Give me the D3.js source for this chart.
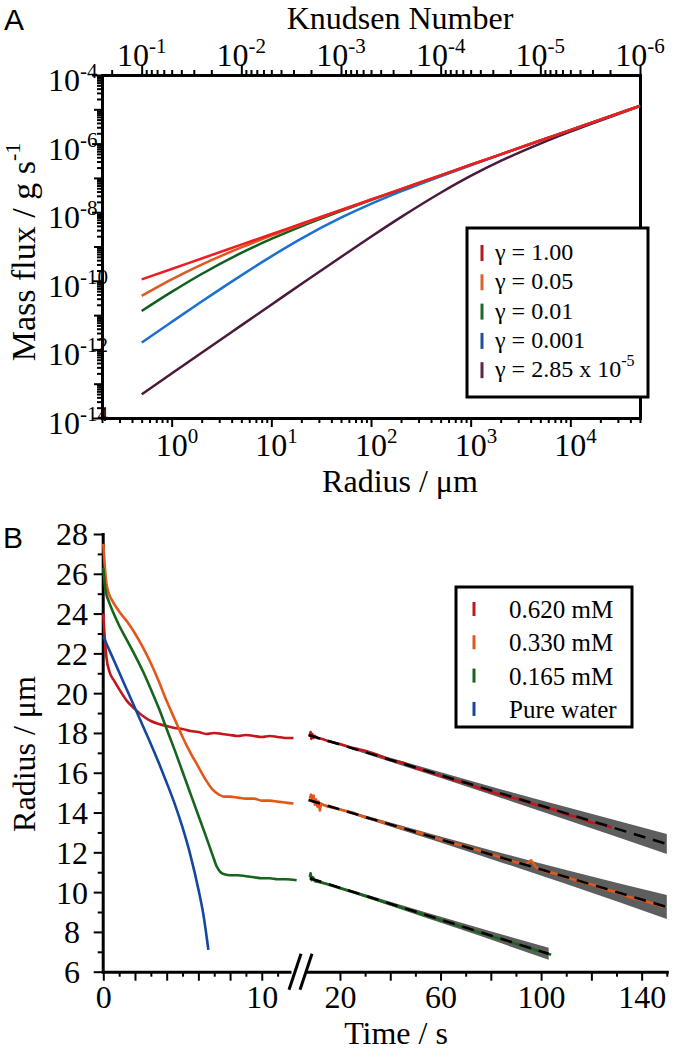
<!DOCTYPE html>
<html><head><meta charset="utf-8">
<script src="https://cdn.jsdelivr.net/npm/d3@7"></script>
<style>
html,body{margin:0;padding:0;background:#fff;}
svg{display:block;}
</style></head><body>
<svg id="chart" width="677" height="1052"></svg>
<script>
// ================= Panel A data =================
const radiusUm = [0.5, 1, 2, 5, 10, 20, 50, 100, 200, 500, 1000, 2000, 5000, 1e4, 2e4, 5e4];
const fluxGamma1 = [1.10e-10, 2.21e-10, 4.47e-10, 1.13e-9, 2.28e-9, 4.59e-9, 1.16e-8, 2.34e-8, 4.72e-8, 1.19e-7, 2.41e-7, 4.86e-7, 1.23e-6, 2.48e-6, 5.0e-6, 1.26e-5];
const fluxGamma005 = [3.63e-11, 1.10e-10, 2.97e-10, 9.38e-10, 2.07e-9, 4.38e-9, 1.14e-8, 2.32e-8, 4.70e-8, 1.19e-7, 2.41e-7, 4.86e-7, 1.23e-6, 2.48e-6, 5.0e-6, 1.26e-5];
const fluxGamma001 = [1.32e-11, 4.75e-11, 1.58e-10, 6.50e-10, 1.66e-9, 3.88e-9, 1.08e-8, 2.26e-8, 4.63e-8, 1.19e-7, 2.40e-7, 4.85e-7, 1.23e-6, 2.48e-6, 5.0e-6, 1.26e-5];
const fluxGamma0001 = [1.58e-12, 6.31e-12, 2.48e-11, 1.44e-10, 5.16e-10, 1.70e-9, 6.90e-9, 1.75e-8, 4.04e-8, 1.12e-7, 2.33e-7, 4.79e-7, 1.22e-6, 2.47e-6, 5.0e-6, 1.26e-5];
const fluxGamma285e5 = [4.90e-14, 1.98e-13, 7.98e-13, 5.01e-12, 2.01e-11, 8.07e-11, 4.97e-10, 1.92e-9, 7.16e-9, 3.69e-8, 1.14e-7, 3.12e-7, 1.00e-6, 2.23e-6, 4.73e-6, 1.23e-5];
const gammaLabels = ["γ = 1.00", "γ = 0.05", "γ = 0.01", "γ = 0.001", "γ = 2.85 x 10"];
const gammaLabelSup = ["", "", "", "", "-5"];
const gammaLineColors = ["#ee1c24", "#e2571e", "#0f5f1f", "#1b70d0", "#4b1a3a"];
const gammaLegendColors = ["#b3191f", "#d9632a", "#1b6a2b", "#1f4e9a", "#5b2448"];
const radiusLabelTicks = [1, 10, 100, 1000, 10000];
const fluxLabelTicks = [1e-4, 1e-6, 1e-8, 1e-10, 1e-12, 1e-14];
const knudsenLabelTicks = [1e-1, 1e-2, 1e-3, 1e-4, 1e-5, 1e-6];
const meanFreePathUm = 0.05;   // Knudsen number = mean free path / radius

// ================= Panel B data =================
const redLeft = [[0,24.0],[0.05,23.3],[0.1,22.7],[0.2,21.8],[0.4,21.05],[0.7,20.6],[1.0,20.2],[1.5,19.6],[2.0,19.2],[2.5,18.85],[3.0,18.6],[3.5,18.45],[4.0,18.35],[4.5,18.25],[5.0,18.2],[5.5,18.1],[6.0,18.05],[6.5,17.95],[7.0,18.0],[7.5,17.95],[8.0,17.9],[8.5,17.85],[9.0,17.9],[9.5,17.85],[10.0,17.8],[10.5,17.85],[11.0,17.8],[11.5,17.75],[12.0,17.75]];
const orangeLeft = [[0,27.5],[0.1,26.3],[0.2,25.5],[0.35,25.0],[0.6,24.6],[1.0,24.1],[1.5,23.6],[2.0,23.0],[2.5,22.3],[3.0,21.5],[3.5,20.6],[4.0,19.6],[4.5,18.7],[5.0,17.8],[5.5,17.0],[6.0,16.3],[6.5,15.6],[6.9,15.15],[7.3,14.9],[7.6,14.8],[8.0,14.8],[8.5,14.75],[9.0,14.7],[9.5,14.7],[10.0,14.6],[10.5,14.6],[11.0,14.55],[11.5,14.5],[12.0,14.45]];
const greenLeft = [[0,26.3],[0.05,25.8],[0.1,25.4],[0.2,24.95],[0.35,24.6],[0.6,24.1],[1.0,23.4],[1.5,22.65],[2.0,21.9],[2.5,21.1],[3.0,20.2],[3.5,19.25],[4.0,18.2],[4.5,17.15],[5.0,16.05],[5.5,14.95],[6.0,13.85],[6.5,12.75],[6.9,11.85],[7.15,11.3],[7.4,11.0],[7.7,10.88],[8.0,10.85],[8.5,10.85],[9.0,10.8],[9.5,10.75],[10.0,10.7],[10.5,10.7],[11.0,10.65],[11.5,10.65],[12.2,10.6]];
const blueLeft = [[0,22.85],[0.25,22.4],[0.5,21.95],[0.75,21.5],[1.0,21.05],[1.5,20.15],[2.0,19.25],[2.5,18.35],[3.0,17.45],[3.5,16.5],[4.0,15.5],[4.5,14.45],[5.0,13.25],[5.5,11.85],[6.0,10.15],[6.3,8.95],[6.63,7.1]];
const redRight = [[8.0,17.8],[8.3,18.05],[8.6,17.7],[9.0,17.95],[9.5,17.75],[10,17.85],[11,17.75],[13,17.7],[15,17.6],[20,17.45],[25,17.25],[30,17.1],[35,16.9],[40,16.65],[45,16.5],[50,16.25],[55,16.05],[60,15.85],[65,15.65],[70,15.5],[75,15.25],[80,15.05],[85,14.85],[90,14.7],[95,14.5],[100,14.3],[105,14.15],[110,13.9],[115,13.75],[120,13.5],[125,13.4],[128,13.25]];
const orangeRight = [[8.0,14.7],[8.5,14.9],[9.0,14.55],[9.5,14.85],[10,14.4],[10.5,14.65],[11,14.3],[11.5,14.55],[12,14.1],[12.5,14.45],[13,14.4],[15,14.3],[20,14.15],[25,14.0],[30,13.75],[35,13.6],[40,13.4],[45,13.2],[50,13.05],[55,12.85],[60,12.65],[65,12.45],[70,12.3],[75,12.1],[80,11.9],[85,11.7],[90,11.5],[94,11.4],[96,11.6],[98,11.25],[100,11.1],[105,10.95],[110,10.75],[115,10.55],[120,10.4],[125,10.15],[130,10.0],[135,9.75],[140,9.6],[145,9.4],[149,9.25]];
const greenRight = [[8.0,10.75],[8.3,10.95],[8.7,10.6],[9.2,10.75],[10,10.55],[12,10.5],[15,10.4],[20,10.2],[25,10.0],[30,9.8],[35,9.6],[40,9.4],[45,9.2],[50,9.0],[55,8.8],[60,8.6],[65,8.4],[70,8.2],[75,8.0],[80,7.8],[85,7.6],[90,7.4],[95,7.2],[100,7.0],[104,6.85]];
const fitRed = [[7.5,17.9],[150,12.42]];
const fitOrange = [[7.5,14.63],[150,9.25]];
const fitGreen = [[8,10.7],[103,6.9]];
const bandRed = [[7.5,17.87,17.93],[40,16.55,16.75],[80,14.91,15.31],[110,13.64,14.28],[150,11.92,12.92]];
const bandOrange = [[7.5,14.6,14.66],[40,13.3,13.5],[80,11.67,12.11],[110,10.41,11.11],[150,8.65,9.85]];
const bandGreen = [[8,10.67,10.73],[40,9.32,9.52],[70,8.04,8.40],[103,6.6,7.2]];
const concLabels = ["0.620 mM", "0.330 mM", "0.165 mM", "Pure water"];
const concColors = ["#c3161d", "#e3571b", "#17651d", "#1546a0"];
const timeLeftLabels = [0, 10];
const timeRightLabels = [20, 60, 100, 140];

// ================= drawing =================
const SERIF = '"Liberation Serif","Times New Roman",Times,serif';
const SANS = '"Liberation Sans",Arial,Helvetica,sans-serif';
const svg = d3.select("#chart");

function logTickValues(domain) {
  const lo = Math.min(...domain), hi = Math.max(...domain), out = [];
  for (let e = Math.floor(Math.log10(lo)); e <= Math.ceil(Math.log10(hi)); e++)
    for (let k = 1; k <= 9; k++) {
      const v = k * Math.pow(10, e);
      if (v >= lo * (1 - 1e-9) && v <= hi * (1 + 1e-9)) out.push(v);
    }
  return out;
}
const isDecade = v => Math.abs(Math.log10(v) - Math.round(Math.log10(v))) < 1e-6;
function styleAxis(g) {
  g.attr("font-family", SERIF);
  g.select(".domain").attr("stroke", "#000").attr("stroke-width", 3).attr("stroke-linecap", "square");
  g.selectAll(".tick line").attr("stroke", "#000").attr("stroke-width", 2);
}
function powLabel(g, x, y, exp, anchor) {
  const t = g.append("text").attr("x", x).attr("y", y).attr("text-anchor", anchor)
    .attr("font-family", SERIF).attr("font-size", 32).text("10");
  t.append("tspan").attr("dy", -13).attr("font-size", 21).text(String(exp));
  return t;
}

// ---------- Panel A ----------
const xA = d3.scaleLog().domain([0.2, 5e4]).range([102, 640]);
const yA = d3.scaleLog().domain([1e-14, 1e-4]).range([418, 75]);
const kA = d3.scaleLog().domain([meanFreePathUm / 0.2, meanFreePathUm / 5e4]).range([102, 640]);
const gA = svg.append("g");

const axB = gA.append("g").attr("transform", `translate(0,${yA(1e-14)})`)
  .call(d3.axisBottom(xA).tickValues(logTickValues(xA.domain())).tickFormat("").tickSizeOuter(0));
axB.selectAll(".tick line").attr("y2", d => isDecade(d) ? 9 : 5);
styleAxis(axB);

const axT = gA.append("g").attr("transform", `translate(0,${yA(1e-4)})`)
  .call(d3.axisTop(kA).tickValues(logTickValues(kA.domain())).tickFormat("").tickSizeOuter(0));
axT.selectAll(".tick line").attr("y2", d => isDecade(d) ? -9 : -5);
styleAxis(axT);

const axL = gA.append("g").attr("transform", `translate(${xA(0.2)},0)`)
  .call(d3.axisLeft(yA).tickValues(logTickValues(yA.domain())).tickFormat("").tickSizeOuter(0));
axL.selectAll(".tick line").attr("x2", d => isDecade(d) ? (Math.round(Math.log10(d)) % 2 === 0 ? -10 : -8) : -5);
styleAxis(axL);

const axR = gA.append("g").attr("transform", `translate(${xA(5e4)},0)`)
  .call(d3.axisRight(yA).tickValues([]).tickSizeOuter(0));
styleAxis(axR);

radiusLabelTicks.forEach(v => powLabel(gA, xA(v) - 16, 456, Math.round(Math.log10(v)), "start"));
fluxLabelTicks.forEach(v => powLabel(gA, 48, yA(v) + 16, Math.round(Math.log10(v)), "start"));
knudsenLabelTicks.forEach(v => powLabel(gA, kA(v), 66, Math.round(Math.log10(v)), "middle"));

gA.append("text").attr("x", 400).attr("y", 29).attr("text-anchor", "middle")
  .attr("font-family", SERIF).attr("font-size", 32).text("Knudsen Number");
gA.append("text").attr("x", 400).attr("y", 492).attr("text-anchor", "middle")
  .attr("font-family", SERIF).attr("font-size", 32).text("Radius / μm");
const yTitleA = gA.append("text").attr("transform", "translate(35,252) rotate(-90)").attr("text-anchor", "middle")
  .attr("font-family", SERIF).attr("font-size", 34).text("Mass flux / g s");
yTitleA.append("tspan").attr("dy", -15).attr("font-size", 22).text("-1");
gA.append("text").attr("x", 4).attr("y", 30).attr("font-family", SANS).attr("font-size", 30).text("A");

const lineA = d3.line().x(d => xA(d[0])).y(d => yA(d[1])).curve(d3.curveMonotoneX);
const fluxSeries = [fluxGamma1, fluxGamma005, fluxGamma001, fluxGamma0001, fluxGamma285e5];
[4, 3, 2, 1, 0].forEach(i => {
  gA.append("path").datum(radiusUm.map((r, j) => [r, fluxSeries[i][j]]))
    .attr("d", lineA).attr("fill", "none").attr("stroke", gammaLineColors[i]).attr("stroke-width", 2.5);
});

// legend A
gA.append("rect").attr("x", 467).attr("y", 228).attr("width", 181).attr("height", 169)
  .attr("fill", "#fff").attr("stroke", "#000").attr("stroke-width", 3);
gammaLabels.forEach((lab, i) => {
  const by = 260 + i * 29.3;
  gA.append("line").attr("x1", 482).attr("x2", 482).attr("y1", by - 15).attr("y2", by + 1)
    .attr("stroke", gammaLegendColors[i]).attr("stroke-width", 3);
  const t = gA.append("text").attr("x", 495).attr("y", by).attr("font-family", SERIF).attr("font-size", 24).text(lab);
  if (gammaLabelSup[i]) t.append("tspan").attr("dy", -11).attr("font-size", 16).text(gammaLabelSup[i]);
});

// ---------- Panel B ----------
const yB = d3.scaleLinear().domain([6, 28]).range([971.7, 534]);
const xB1 = d3.scaleLinear().domain([0, 11.75]).range([103.3, 289.5]);
const xB2 = d3.scaleLinear().domain([7, 150]).range([307.3, 666.8]);
const gB = svg.append("g");

const axBy = gB.append("g").attr("transform", `translate(102.7,0)`)
  .call(d3.axisLeft(yB).tickValues(d3.range(6, 28.01, 1)).tickFormat(d => d % 2 === 0 ? d : "").tickSizeOuter(0));
axBy.selectAll(".tick line").attr("x2", d => d % 2 === 0 ? -9 : -5);
axBy.selectAll(".tick text").attr("x", 72 - 102.7).attr("text-anchor", "middle").attr("dy", "0.34em").attr("font-size", 32);
styleAxis(axBy);

const axBx1 = gB.append("g").attr("transform", `translate(0,${yB(6)})`)
  .call(d3.axisBottom(xB1).tickValues(d3.range(0, 12, 1)).tickFormat(d => timeLeftLabels.includes(d) ? d : "").tickSizeOuter(0));
axBx1.selectAll(".tick line").attr("y2", d => d % 2 === 0 ? 9 : 5);
axBx1.selectAll(".tick text").attr("y", 14).attr("dy", "0.71em").attr("font-size", 32);
styleAxis(axBx1);

const axBx2 = gB.append("g").attr("transform", `translate(0,${yB(6)})`)
  .call(d3.axisBottom(xB2).tickValues(d3.range(20, 151, 10)).tickFormat(d => timeRightLabels.includes(d) ? d : "").tickSizeOuter(0));
axBx2.selectAll(".tick line").attr("y2", d => d % 20 === 0 ? 9 : 5);
axBx2.selectAll(".tick text").attr("y", 14).attr("dy", "0.71em").attr("font-size", 32);
styleAxis(axBx2);

// axis break marks
[[289, 301], [300, 312]].forEach(([xa, xb]) => {
  gB.append("line").attr("x1", xa).attr("y1", yB(6) + 18).attr("x2", xb).attr("y2", yB(6) - 18)
    .attr("stroke", "#000").attr("stroke-width", 3);
});

gB.append("text").attr("x", 396).attr("y", 1044).attr("text-anchor", "middle")
  .attr("font-family", SERIF).attr("font-size", 32).text("Time / s");
gB.append("text").attr("transform", "translate(35,754) rotate(-90)").attr("text-anchor", "middle")
  .attr("font-family", SERIF).attr("font-size", 32).text("Radius / μm");
gB.append("text").attr("x", 3).attr("y", 548).attr("font-family", SANS).attr("font-size", 30).text("B");

const line1 = d3.line().x(d => xB1(d[0])).y(d => yB(d[1])).curve(d3.curveMonotoneX);
const line2 = d3.line().x(d => xB2(d[0])).y(d => yB(d[1]));
const area2 = d3.area().x(d => xB2(d[0])).y0(d => yB(d[1])).y1(d => yB(d[2])).curve(d3.curveMonotoneX);

[bandRed, bandOrange, bandGreen].forEach(b => {
  gB.append("path").datum(b).attr("d", area2).attr("fill", "#5e5e5e");
});
const leftSeries = [redLeft, orangeLeft, greenLeft, blueLeft];
leftSeries.forEach((s, i) => {
  gB.append("path").datum(s).attr("d", line1).attr("fill", "none")
    .attr("stroke", concColors[i]).attr("stroke-width", 2.6).attr("stroke-linejoin", "round");
});
[redRight, orangeRight, greenRight].forEach((s, i) => {
  gB.append("path").datum(s).attr("d", line2).attr("fill", "none")
    .attr("stroke", concColors[i]).attr("stroke-width", 2.6).attr("stroke-linejoin", "round");
});
[fitRed, fitOrange, fitGreen].forEach(f => {
  gB.append("path").datum(f).attr("d", line2).attr("fill", "none")
    .attr("stroke", "#000").attr("stroke-width", 2.5).attr("stroke-dasharray", "12,8");
});

// legend B
gB.append("rect").attr("x", 456).attr("y", 587).attr("width", 176).attr("height", 140)
  .attr("fill", "#fff").attr("stroke", "#000").attr("stroke-width", 3);
concLabels.forEach((lab, i) => {
  const by = 618 + i * 33.3;
  gB.append("line").attr("x1", 474).attr("x2", 474).attr("y1", by - 16).attr("y2", by - 2)
    .attr("stroke", concColors[i]).attr("stroke-width", 3);
  gB.append("text").attr("x", 509).attr("y", by).attr("font-family", SERIF).attr("font-size", 25).text(lab);
});
</script>
</body></html>
